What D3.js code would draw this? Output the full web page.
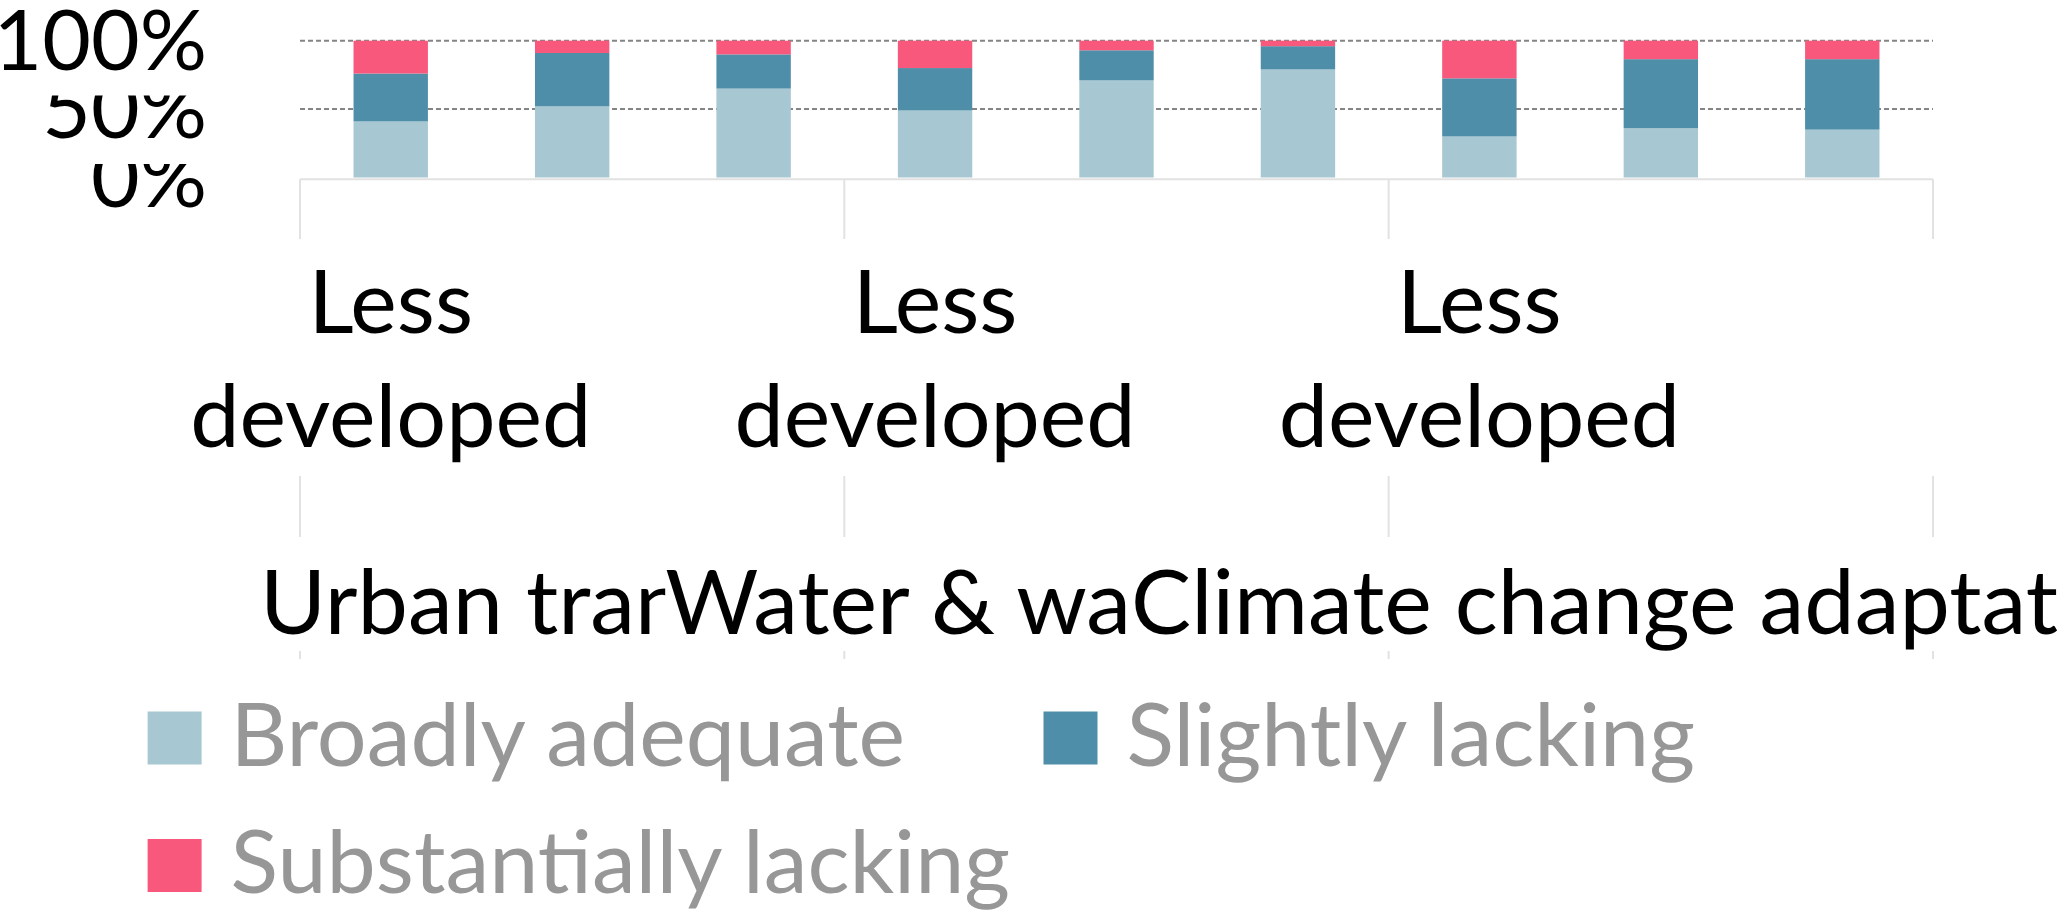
<!DOCTYPE html>
<html>
<head>
<meta charset="UTF-8">
<title></title>
<style type="text/css">
	body { margin: 0; background: #fff; }
	svg { display: block; font-family: Lato, "Open Sans", sans-serif; }
</style>
</head>
<body>
<svg class="chart"></svg>

<script src="https://cdn.jsdelivr.net/npm/d3@7/dist/d3.min.js" type="text/javascript" charset="utf-8"></script>
<script type="text/javascript">
	var regions = ["Less developed", "Transition", "More developed"];
	var themes = ["Urban tran", "Water & wa", "Climate change adaptat"];
	var seriesNames = ["Broadly adequate", "Slightly lacking", "Substantially lacking"];
	var broadlyAdequate = [41, 52, 65, 49, 71, 79, 30, 36, 35];
	var slightlyLacking = [35, 39, 25, 31, 22, 17, 42.5, 50.5, 51.5];
	var substantiallyLacking = [24, 9, 10, 20, 7, 4, 27.5, 13.5, 13.5];
	var yTicks = [0, 50, 100];
	var colors = ["#a7c7d2", "#4f8ea9", "#f8587c"];

	var width = 2066, height = 913;
	var fontSize = 88;
	var tickFontSize = 84;
	var groupFontSize = 90;

	var svg = d3.select(".chart")
		.attr("width", width)
		.attr("height", height);

	var categories = [];
	themes.forEach(function(t) {
		regions.forEach(function(r) { categories.push(t + "|" + r); });
	});

	var rows = categories.map(function(c, i) {
		return {
			cat: c,
			"Broadly adequate": broadlyAdequate[i],
			"Slightly lacking": slightlyLacking[i],
			"Substantially lacking": substantiallyLacking[i]
		};
	});
	var stacked = d3.stack().keys(seriesNames)(rows);

	var x = d3.scaleBand().domain(categories).range([300, 1933]).padding(0);
	var y = d3.scaleLinear().domain([0, 100]).range([177.5, 40.7]);
	var barW = x.bandwidth() * 0.41;

	// gridlines
	svg.append("g").selectAll("line")
		.data(yTicks.filter(function(d) { return d > 0; }))
		.enter().append("line")
		.attr("x1", 300).attr("x2", 1933)
		.attr("y1", function(d) { return y(d); })
		.attr("y2", function(d) { return y(d); })
		.attr("stroke", "#858585")
		.attr("stroke-width", 2)
		.attr("stroke-dasharray", "5,3");

	// bars
	svg.append("g").selectAll("g")
		.data(stacked)
		.enter().append("g")
		.attr("fill", function(d, i) { return colors[i]; })
		.selectAll("rect")
		.data(function(d) { return d; })
		.enter().append("rect")
		.attr("x", function(d) { return x(d.data.cat) + (x.bandwidth() - barW) / 2; })
		.attr("width", barW)
		.attr("y", function(d) { return y(d[1]); })
		.attr("height", function(d) { return y(d[0]) - y(d[1]); });

	// category axis line + group separators
	var gx = svg.append("g").attr("stroke", "#e2e2e2").attr("stroke-width", 2);
	gx.append("line")
		.attr("x1", 300).attr("x2", 1933)
		.attr("y1", 179.3).attr("y2", 179.3);
	var bounds = [0, 3, 6].map(function(i) { return x(categories[i]); }).concat([x.range()[1]]);
	var segs = [[179.3, 239], [476, 537], [651, 659]];
	bounds.forEach(function(b) {
		segs.forEach(function(s) {
			gx.append("line")
				.attr("x1", b).attr("x2", b)
				.attr("y1", s[0]).attr("y2", s[1]);
		});
	});

	// y axis labels (each one clipped by the label above it)
	var defs = svg.append("defs");
	defs.append("clipPath").attr("id", "tickClip")
		.append("rect").attr("x", -400).attr("y", -14).attr("width", 420).attr("height", 120);

	var yAxis = d3.axisLeft(y)
		.tickValues(yTicks)
		.tickSize(0)
		.tickPadding(0)
		.tickFormat(function(d) { return d + "%"; });
	var gy = svg.append("g")
		.attr("transform", "translate(207,0)")
		.call(yAxis);
	gy.select(".domain").remove();
	gy.selectAll("text")
		.attr("font-family", "Lato, sans-serif")
		.attr("font-size", tickFontSize)
		.attr("fill", "#000")
		.attr("dy", "0.34em")
		.attr("clip-path", function(d) { return d < 100 ? "url(#tickClip)" : null; });

	// inner category labels (every third shown)
	var inner = svg.append("g")
		.attr("font-size", fontSize)
		.attr("text-anchor", "middle")
		.attr("fill", "#000");
	inner.selectAll("text")
		.data(categories.filter(function(c, i) { return i % 3 === 0; }))
		.enter().append("text")
		.each(function(c) {
			var t = d3.select(this);
			var cx = x(c) + x.bandwidth() / 2;
			var words = c.split("|")[1].split(" ");
			words.forEach(function(w, j) {
				t.append("tspan").attr("x", cx).attr("y", j === 0 ? 333 : 447).text(w);
			});
		});

	// outer group labels: they run into each other, each one cut where the next starts
	var outer = svg.append("g")
		.attr("font-size", groupFontSize)
		.attr("fill", "#000");
	var themeText = outer.selectAll("text")
		.data(themes)
		.enter().append("text")
		.attr("y", 634)
		.text(function(d) { return d; });
	var lens = themeText.nodes().map(function(n) { return n.getComputedTextLength(); });
	var starts = [260, 0, 2058 - lens[2]];
	starts[1] = starts[2] - lens[1];
	var ends = [starts[1], starts[2], width];
	themeText.attr("x", function(d, i) { return starts[i]; })
		.attr("clip-path", function(d, i) { return "url(#themeClip" + i + ")"; });
	themes.forEach(function(t, i) {
		defs.append("clipPath").attr("id", "themeClip" + i)
			.append("rect")
			.attr("x", starts[i] - 20).attr("y", 500)
			.attr("width", ends[i] - starts[i] + 20).attr("height", 180);
	});

	// legend
	var legendPos = [[147.6, 711.5], [1043.5, 711.5], [147.6, 839]];
	var lg = svg.append("g").selectAll("g")
		.data(seriesNames)
		.enter().append("g")
		.attr("transform", function(d, i) { return "translate(" + legendPos[i][0] + "," + legendPos[i][1] + ")"; });
	lg.append("rect")
		.attr("width", 54).attr("height", 53)
		.attr("fill", function(d, i) { return colors[i]; });
	lg.append("text")
		.attr("x", 83).attr("y", 54)
		.attr("font-size", fontSize)
		.attr("fill", "#979797")
		.text(function(d) { return d; });
</script>
</body>
</html>
